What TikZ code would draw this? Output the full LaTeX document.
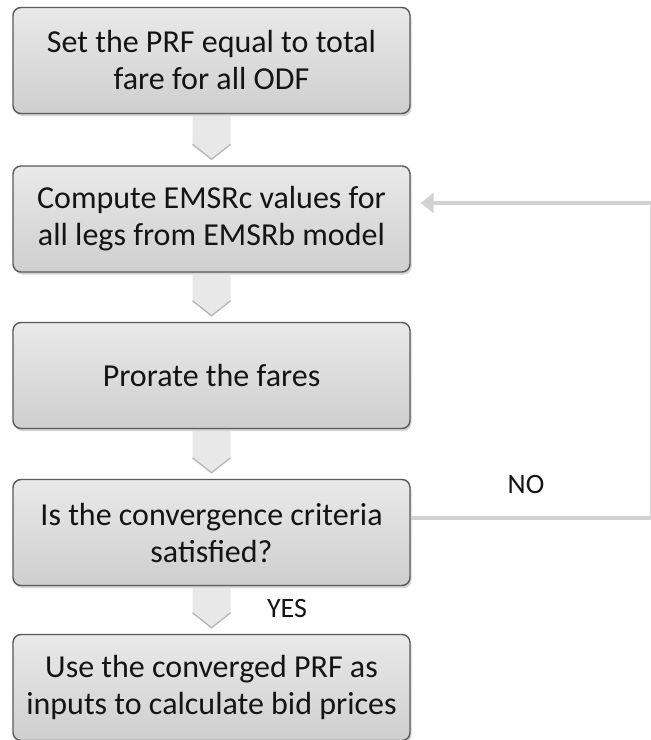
\documentclass[tikz,border=0pt]{standalone}
\usepackage{fontspec}
\setmainfont{Carlito}
\usetikzlibrary{calc,shadows,arrows.meta}

\tikzset{
  stepbox/.style={rounded corners=8pt, draw=gray!70!black, line width=1.4pt,
    top color=gray!17, bottom color=gray!38,
    minimum width=397pt, minimum height=106pt, align=center,
    font=\fontsize{32}{37}\selectfont, text=black!92,
    drop shadow={opacity=0.35, shadow xshift=1.5pt, shadow yshift=-2.5pt}},
  answer/.style={font=\fontsize{28}{32}\selectfont, text=black!92},
  feedback/.style={draw=gray!35, line width=4.5pt, shorten >=10pt,
    -{Triangle[width=20pt,length=13pt]}},
  chevfill/.style={fill=gray!18},
  chevline/.style={draw=gray!58, line width=1.3pt},
}

% down-pointing chevron connector between two stacked boxes
\newcommand{\flowchev}[2]{%
  \fill[chevfill] ($(#1.south)+(-19,2)$) -- ($(#1.south)+(19,2)$)
    -- ($(#2.north)+(19,-21)$) -- ($(#2.north)+(0,-6)$)
    -- ($(#2.north)+(-19,-21)$) -- cycle;
  \draw[chevline] ($(#2.north)+(-19,-21)$) -- ($(#2.north)+(0,-6)$)
    -- ($(#2.north)+(19,-21)$);
}

\begin{document}
\begin{tikzpicture}[x=1pt, y=-1pt]
  \useasboundingbox (0,0) rectangle (651,740);

  \node[stepbox] (b1) at (211.5,60.5) {Set the PRF equal to total\\fare for all ODF};
  \node[stepbox] (b2) at (211.5,219) {Compute EMSRc values for\\all legs from EMSRb model};
  \node[stepbox] (b3) at (211.5,375.5) {Prorate the fares};
  \node[stepbox] (b4) at (211.5,532.5) {Is the convergence criteria\\satisfied?};
  \node[stepbox] (b5) at (211.5,687.5) {Use the converged PRF as\\inputs to calculate bid prices};

  \flowchev{b1}{b2}
  \flowchev{b2}{b3}
  \flowchev{b3}{b4}
  \flowchev{b4}{b5}

  \node[answer] (no) at (526,485) {NO};
  \node[answer] (yes) at (287,609) {YES};

  % loop back from the test to the EMSRc step
  \coordinate (loopR) at (652.5,0);
  \coordinate (fbOut) at ([yshift=14.5pt]b4.east);
  \coordinate (fbIn) at ([yshift=16pt]b2.east);
  \draw[feedback] (fbOut) -- (fbOut -| loopR) -- (fbIn -| loopR) -- (fbIn);
\end{tikzpicture}
\end{document}
